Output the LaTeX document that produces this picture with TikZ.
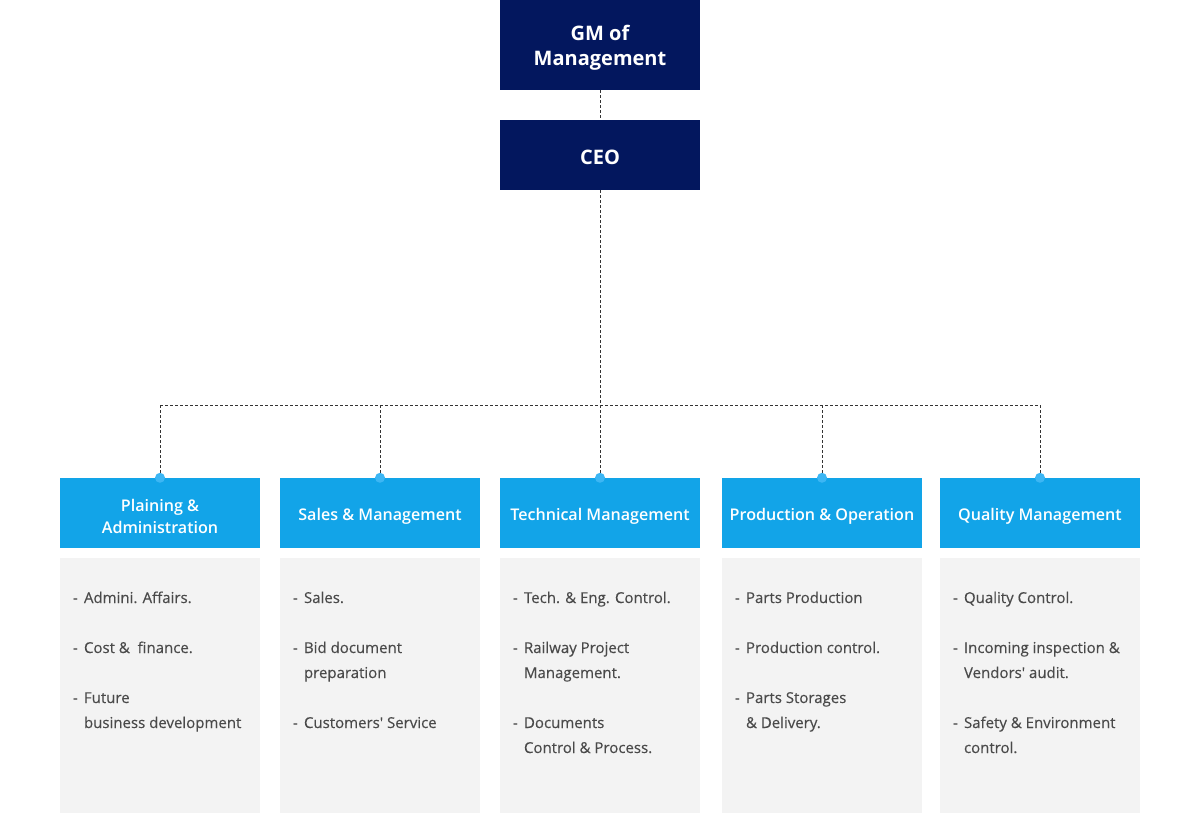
\documentclass[tikz,border=0pt]{standalone}
\usepackage{fontspec}
\setmainfont{Open Sans}
\IfFontExistsTF{Open Sans SemiBold}{\newfontfamily\semi{Open Sans SemiBold}}{%
 \IfFontExistsTF{Open Sans Semibold}{\newfontfamily\semi{Open Sans Semibold}}{%
  \newfontfamily\semi[FakeBold=0.9]{Open Sans}}}
\newfontfamily\itemfont[FakeBold=0.3]{Open Sans}
\definecolor{navy}{HTML}{03175E}
\definecolor{dept}{HTML}{12A4E8}
\definecolor{dotc}{HTML}{3CB6F4}
\definecolor{panel}{HTML}{F3F3F3}
\definecolor{txt}{HTML}{4A4A4A}
\definecolor{dash}{HTML}{333333}
\tikzset{
  topbox/.style={fill=navy, text=white, minimum width=200pt, inner sep=0pt, font=\fontsize{20}{25}\selectfont\bfseries, align=center},
  deptbox/.style={fill=dept, text=white, minimum width=200pt, minimum height=70pt, inner sep=0pt, font=\semi\fontsize{16.1}{22}\selectfont, align=center},
  panelbox/.style={fill=panel, minimum width=200pt, minimum height=255pt, inner sep=0pt},
  conn/.style={draw=dash, densely dashed, line width=0.9pt},
  dotn/.style={circle, fill=dotc, minimum size=10pt, inner sep=0pt},
  item/.style={anchor=base west, text=txt, inner sep=0pt, font=\itemfont\fontsize{15}{25}\selectfont},
}
\begin{document}
\begin{tikzpicture}[x=1pt,y=-1pt]
\useasboundingbox (0,0) rectangle (1200,813);
% top
\node[topbox, minimum height=90pt] (gm) at (600,45) {};
\node[topbox] (gmt) at (600,48) {GM of\\Management};
\node[topbox, minimum height=70pt] (ceo) at (600,155) {};
\node[topbox] (ceot) at (600,157) {CEO};
\draw[conn] (gm.south) -- (ceo.north);
\coordinate (hub) at (600,405);
\draw[conn] (ceo.south) -- (hub);
% departments
\foreach \n/\x/\t in {d1/160/{Plaining \&\\Administration}, d2/380/{Sales \& Management}, d3/600/{Technical Management}, d4/822/{Production \& Operation}, d5/1040/{Quality Management}}{
  \node[panelbox] (\n p) at (\x,685.5) {};
  \node[deptbox] (\n) at (\x,513) {};
  \node[deptbox, minimum height=0pt, fill=none] (\n t) at (\x,516) {\t};
  \coordinate (\n c) at (\x,405);
}
\draw[conn] (d1c) -- (d5c);
\foreach \n in {d1,d2,d3,d4,d5}{
  \draw[conn] (\n c) -- (\n.north);
  \node[dotn] (\n dot) at (\n.north) {};
}
% items: dash + first line
\foreach \n/\y/\t in {
 d1/603/{Admini. Affairs.}, d1/653/{Cost \&\ \ finance.}, d1/703/{Future},
 d2/603/{Sales.}, d2/653/{Bid document}, d2/728/{Customers' Service},
 d3/603/{Tech. \& Eng. Control.}, d3/653/{Railway Project}, d3/728/{Documents},
 d4/603/{Parts Production}, d4/653/{Production control.}, d4/703/{Parts Storages},
 d5/603/{Quality Control.}, d5/653/{Incoming inspection \&}, d5/728/{Safety \& Environment}}{
  \node[item] at ([xshift=13pt]\n p.west |- 0,\y) {-};
  \node[item] at ([xshift=24pt]\n p.west |- 0,\y) {\t};
}
% continuation lines
\foreach \n/\y/\t in {
 d1/728/{business development}, d2/678/{preparation}, d3/678/{Management.},
 d3/753/{Control \& Process.}, d4/728/{\& Delivery.}, d5/678/{Vendors' audit.}, d5/753/{control.}}{
  \node[item] at ([xshift=24pt]\n p.west |- 0,\y) {\t};
}
\end{tikzpicture}
\end{document}
